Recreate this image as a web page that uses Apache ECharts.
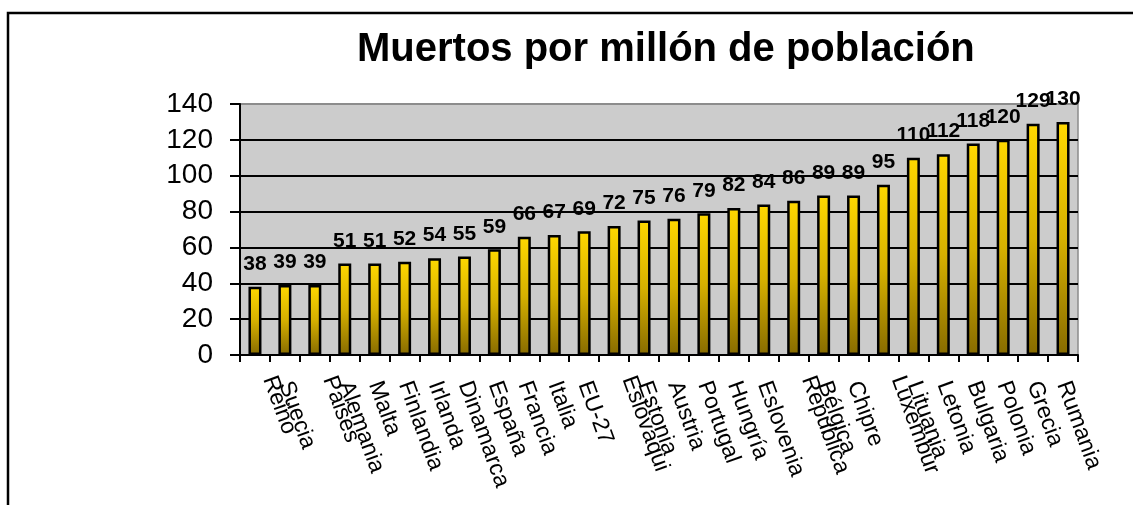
<!DOCTYPE html>
<html>
<head>
<meta charset="utf-8">
<style>
  html, body { margin: 0; padding: 0; background: #ffffff; }
  #chart { width: 1133px; height: 505px; }
</style>
<script src="https://cdn.jsdelivr.net/npm/echarts@6/dist/echarts.min.js"></script>
</head>
<body>
<div id="chart"></div>
<script>
// Deaths per million inhabitants, by country (ascending)
const categories = [
  'Reino', 'Suecia', 'Paises', 'Alemania', 'Malta', 'Finlandia', 'Irlanda',
  'Dinamarca', 'España', 'Francia', 'Italia', 'EU-27', 'Eslovaqui', 'Estonia',
  'Austria', 'Portugal', 'Hungría', 'Eslovenia', 'Republica', 'Bélgica',
  'Chipre', 'Luxembur', 'Lituania', 'Letonia', 'Bulgaria', 'Polonia',
  'Grecia', 'Rumania'
];
const deaths = [
  38, 39, 39, 51, 51, 52, 54, 55, 59, 66, 67, 69, 72, 75,
  76, 79, 82, 84, 86, 89, 89, 95, 110, 112, 118, 120, 129, 130
];
// Labels laid out as the first line of a wrapped two-line slot
const wrappedLabels = ['Reino', 'Paises', 'Eslovaqui', 'Republica', 'Luxembur'];
const yTicks = [0, 20, 40, 60, 80, 100, 120, 140];

const chart = echarts.init(document.getElementById('chart'), null, { renderer: 'canvas' });
const FONT = '"Liberation Sans", Arial, sans-serif';

chart.setOption({
  animation: false,
  backgroundColor: '#ffffff',
  title: {
    text: 'Muertos por millón de población',
    left: 352,
    top: 25,
    textStyle: { fontFamily: FONT, fontSize: 40, fontWeight: 'bold', color: '#000' }
  },
  graphic: [{
    type: 'rect',
    shape: { x: 8, y: 13, width: 1300, height: 700 },
    style: { fill: 'none', stroke: '#000', lineWidth: 2.5 },
    silent: true
  }],
  grid: {
    left: 240, top: 104, right: 55, bottom: 150,
    show: true, backgroundColor: '#cccccc', borderColor: '#8c8c8c', borderWidth: 1.5
  },
  xAxis: {
    type: 'category',
    data: categories,
    axisLine: { lineStyle: { color: '#000', width: 2 } },
    axisTick: { show: true, length: 7, lineStyle: { color: '#000', width: 2 } },
    axisLabel: {
      interval: 0,
      rotate: -70,
      margin: 27,
      fontFamily: FONT,
      fontSize: 23,
      lineHeight: 30,
      color: '#000',
      formatter: v => wrappedLabels.includes(v) ? v + '\n ' : v
    }
  },
  yAxis: {
    type: 'value',
    min: yTicks[0],
    max: yTicks[yTicks.length - 1],
    interval: 20,
    axisLine: { show: true, lineStyle: { color: '#000', width: 2 } },
    axisTick: { show: true, length: 10, lineStyle: { color: '#000', width: 2 } },
    axisLabel: { margin: 27, fontFamily: FONT, fontSize: 28, color: '#000' },
    splitLine: {
      show: true,
      lineStyle: {
        width: 2,
        color: ['#000', '#000', '#000', '#000', '#000', '#000', '#000', '#8c8c8c']
      }
    }
  },
  series: [{
    type: 'bar',
    data: deaths,
    barWidth: 13,
    itemStyle: {
      color: new echarts.graphic.LinearGradient(0, 0, 0, 1, [
        { offset: 0, color: '#ffd800' },
        { offset: 0.5, color: '#d6b000' },
        { offset: 1, color: '#876b00' }
      ]),
      borderColor: '#000',
      borderWidth: 2.5
    },
    label: {
      show: true,
      position: 'top',
      distance: 12,
      fontFamily: FONT,
      fontSize: 21,
      fontWeight: 'bold',
      color: '#000'
    }
  }]
});
</script>
</body>
</html>
